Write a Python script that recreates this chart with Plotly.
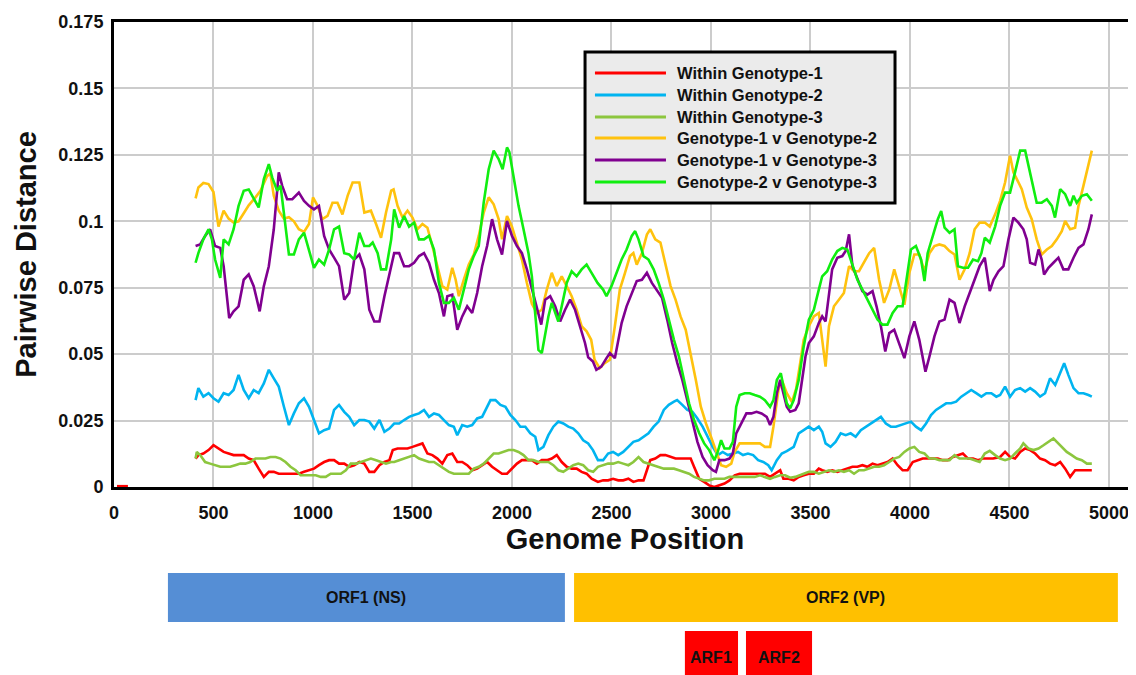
import plotly.graph_objects as go

# ---------------- data ----------------
series_names = ["Within Genotype-1", "Within Genotype-2", "Within Genotype-3",
                "Genotype-1 v Genotype-2", "Genotype-1 v Genotype-3", "Genotype-2 v Genotype-3"]
series_colors = ["#FF0000", "#00B4F0", "#8CC63E", "#FFC20E", "#800090", "#10EE10"]

w1_pos = [15, 70, None, 410, 424, 449, 475, 500, 525, 551, 576, 601, 626, 652, 677, 702, 727, 753, 778, 803, 828, 854, 879, 904, 929, 955, 980,
          1005, 1030, 1056, 1081, 1106, 1131, 1157, 1182, 1207, 1233, 1258, 1283, 1308, 1334, 1359, 1384, 1401, 1425, 1450, 1475,
          1500, 1525, 1550, 1575, 1600, 1625, 1650, 1675, 1700, 1725, 1750, 1775, 1800, 1825, 1850, 1875, 1900, 1925, 1950, 1975,
          2000, 2025, 2050, 2075, 2100, 2125, 2150, 2175, 2200, 2225, 2250, 2275, 2300, 2325, 2350, 2375, 2400, 2432, 2458, 2483,
          2508, 2534, 2559, 2585, 2610, 2636, 2661, 2678, 2695, 2720, 2746, 2771, 2797, 2822, 2847, 2873, 2898, 2915, 2941, 2966,
          2991, 3017, 3042, 3068, 3093, 3119, 3144, 3170, 3195, 3220, 3246, 3271, 3297, 3322, 3348, 3364, 3390, 3416, 3441, 3466,
          3492, 3517, 3542, 3559, 3584, 3609, 3635, 3660, 3685, 3711, 3736, 3761, 3786, 3812, 3837, 3862, 3887, 3913, 3938, 3963,
          3988, 4014, 4039, 4064, 4089, 4115, 4140, 4165, 4190, 4216, 4241, 4266, 4292, 4317, 4342, 4367, 4393, 4418, 4453, 4478,
          4503, 4528, 4554, 4579, 4604, 4629, 4654, 4679, 4704, 4730, 4755, 4780, 4805, 4830, 4855, 4880, 4914]
w1_val = [0.0003, 0.0003, None, 0.0107, 0.012, 0.0126, 0.0139, 0.0157, 0.0145, 0.0132, 0.0126, 0.012, 0.012, 0.012, 0.0107, 0.0101, 0.0069, 0.0038, 0.0057, 0.0057, 0.005, 0.005, 0.005, 0.005, 0.005, 0.0057, 0.0063,
          0.0069, 0.0082, 0.0094, 0.0101, 0.0101, 0.0088, 0.0088, 0.0076, 0.0082, 0.0094, 0.0088, 0.0057, 0.0057, 0.0082, 0.0094, 0.0101, 0.0139, 0.0145, 0.0145, 0.0145,
          0.0151, 0.0157, 0.0164, 0.0126, 0.012, 0.0107, 0.0088, 0.012, 0.0126, 0.0094, 0.0094, 0.0082, 0.0063, 0.0069, 0.0082, 0.0094, 0.0076, 0.0063, 0.005, 0.005,
          0.0069, 0.0088, 0.0101, 0.0101, 0.0101, 0.0088, 0.0101, 0.0101, 0.0107, 0.012, 0.0094, 0.0076, 0.0069, 0.0069, 0.0057, 0.005, 0.0031, 0.0019, 0.0025, 0.0025,
          0.0031, 0.0025, 0.0025, 0.0031, 0.0019, 0.0025, 0.0025, 0.0063, 0.0101, 0.0107, 0.012, 0.012, 0.0113, 0.0107, 0.0107, 0.0107, 0.0107, 0.0076, 0.0031, 0.0019,
          0.0006, 0.0, 0.0006, 0.0013, 0.0025, 0.0044, 0.005, 0.005, 0.005, 0.005, 0.005, 0.005, 0.0038, 0.005, 0.0063, 0.0031, 0.0031, 0.0025, 0.0038, 0.0044,
          0.005, 0.005, 0.0069, 0.0063, 0.0057, 0.0063, 0.0057, 0.0063, 0.0069, 0.0076, 0.0076, 0.0082, 0.0076, 0.0088, 0.0082, 0.0088, 0.0094, 0.0107, 0.0082, 0.0063,
          0.0063, 0.0094, 0.0101, 0.0107, 0.0107, 0.0107, 0.0107, 0.0101, 0.0101, 0.0113, 0.012, 0.0126, 0.0107, 0.0107, 0.0101, 0.0107, 0.0107, 0.0107, 0.0113, 0.0132,
          0.0113, 0.0107, 0.0132, 0.0145, 0.0139, 0.0126, 0.0107, 0.0101, 0.0088, 0.0082, 0.0094, 0.0069, 0.0038, 0.0063, 0.0063, 0.0063, 0.0063]

w2_pos = [410, 424, 449, 475, 500, 525, 551, 576, 601, 626, 652, 677, 702, 727, 753, 778, 803, 828, 854, 879, 904, 929, 955, 980,
          1005, 1030, 1056, 1081, 1106, 1131, 1157, 1182, 1207, 1233, 1258, 1283, 1308, 1334, 1359, 1384, 1408, 1433, 1458, 1483,
          1508, 1533, 1558, 1583, 1608, 1633, 1658, 1683, 1708, 1725, 1750, 1775, 1800, 1825, 1850, 1875, 1892, 1917, 1942, 1967,
          1992, 2017, 2042, 2067, 2092, 2117, 2133, 2158, 2183, 2208, 2233, 2258, 2283, 2308, 2333, 2358, 2383, 2407, 2432, 2458,
          2483, 2508, 2534, 2559, 2585, 2610, 2636, 2661, 2686, 2712, 2737, 2763, 2788, 2814, 2830, 2856, 2881, 2907, 2932, 2958,
          2983, 3009, 3034, 3059, 3085, 3110, 3136, 3161, 3186, 3212, 3237, 3263, 3288, 3305, 3331, 3356, 3381, 3416, 3441, 3466,
          3492, 3517, 3542, 3559, 3576, 3601, 3626, 3652, 3677, 3702, 3727, 3753, 3778, 3803, 3828, 3854, 3879, 3904, 3929, 3955,
          3980, 4005, 4030, 4056, 4081, 4106, 4131, 4157, 4182, 4207, 4232, 4258, 4283, 4308, 4333, 4359, 4384, 4409, 4434, 4453,
          4478, 4503, 4528, 4554, 4579, 4604, 4629, 4654, 4679, 4704, 4730, 4755, 4775, 4796, 4822, 4847, 4872, 4897, 4914]
w2_val = [0.0327, 0.0372, 0.034, 0.0353, 0.0334, 0.0321, 0.0353, 0.0346, 0.0365, 0.0422, 0.0365, 0.0334, 0.0365, 0.0353, 0.039, 0.0441, 0.0409, 0.0378, 0.0302, 0.0233, 0.0277, 0.0315, 0.0334, 0.0302,
          0.0252, 0.0202, 0.0214, 0.022, 0.029, 0.0309, 0.0283, 0.0264, 0.0233, 0.0252, 0.0252, 0.0246, 0.022, 0.0252, 0.0208, 0.022, 0.0239, 0.0239, 0.0252, 0.0264,
          0.0271, 0.0277, 0.029, 0.0264, 0.0277, 0.0271, 0.0252, 0.0233, 0.0227, 0.0195, 0.0233, 0.0227, 0.0233, 0.0258, 0.0264, 0.0302, 0.0327, 0.0327, 0.0309, 0.0302,
          0.0271, 0.0252, 0.0227, 0.0227, 0.0202, 0.0189, 0.0139, 0.0151, 0.0195, 0.0227, 0.0246, 0.0239, 0.0227, 0.022, 0.0202, 0.0176, 0.0164, 0.0139, 0.0101, 0.0101,
          0.0126, 0.0132, 0.012, 0.0132, 0.0151, 0.017, 0.0176, 0.0189, 0.0202, 0.0227, 0.0246, 0.029, 0.0309, 0.0321, 0.0327, 0.0309, 0.029, 0.0283, 0.0258, 0.0227,
          0.0189, 0.0151, 0.012, 0.0132, 0.012, 0.0126, 0.0132, 0.012, 0.0126, 0.012, 0.0101, 0.0094, 0.0082, 0.0063, 0.0101, 0.0126, 0.0135, 0.0151, 0.0202, 0.0214,
          0.0227, 0.0214, 0.0227, 0.0208, 0.0164, 0.0151, 0.017, 0.0202, 0.0195, 0.0202, 0.0189, 0.0214, 0.0227, 0.0239, 0.0252, 0.0264, 0.0239, 0.0227, 0.0227, 0.0233,
          0.0239, 0.0246, 0.0227, 0.0214, 0.0239, 0.0271, 0.029, 0.0302, 0.0315, 0.0315, 0.0321, 0.034, 0.0353, 0.0365, 0.0353, 0.034, 0.0353, 0.0353, 0.034, 0.0346,
          0.0378, 0.034, 0.0365, 0.0372, 0.0359, 0.0372, 0.0359, 0.034, 0.0353, 0.0409, 0.0384, 0.0428, 0.0466, 0.0422, 0.0372, 0.0353, 0.0353, 0.0346, 0.034]

w3_pos = [410, 416, 433, 458, 483, 508, 534, 559, 584, 609, 635, 660, 685, 711, 736, 761, 786, 812, 837, 862, 887, 913, 938, 963, 988,
          1014, 1039, 1064, 1089, 1115, 1140, 1165, 1190, 1216, 1241, 1266, 1291, 1317, 1342, 1367, 1393, 1408, 1433, 1458, 1483,
          1508, 1533, 1558, 1583, 1608, 1633, 1658, 1683, 1708, 1733, 1758, 1783, 1808, 1833, 1858, 1883, 1908, 1933, 1958, 1983,
          2008, 2033, 2058, 2083, 2108, 2133, 2158, 2183, 2208, 2233, 2258, 2283, 2308, 2333, 2358, 2383, 2408, 2432, 2458, 2483,
          2508, 2534, 2559, 2585, 2610, 2636, 2661, 2686, 2712, 2737, 2763, 2788, 2814, 2839, 2864, 2890, 2915, 2941, 2966, 2991,
          3017, 3042, 3068, 3093, 3119, 3144, 3170, 3195, 3220, 3246, 3271, 3297, 3322, 3348, 3373, 3398, 3424, 3441, 3466, 3492,
          3517, 3542, 3567, 3593, 3618, 3643, 3668, 3694, 3719, 3744, 3769, 3795, 3820, 3845, 3870, 3896, 3921, 3946, 3972, 3997,
          4022, 4047, 4073, 4098, 4123, 4148, 4174, 4199, 4224, 4249, 4275, 4300, 4325, 4350, 4376, 4401, 4428, 4453, 4478, 4503,
          4528, 4554, 4570, 4595, 4621, 4646, 4671, 4696, 4721, 4738, 4763, 4788, 4813, 4838, 4864, 4889, 4914]
w3_val = [0.0107, 0.0132, 0.012, 0.0094, 0.0088, 0.0082, 0.0076, 0.0076, 0.0076, 0.0082, 0.0088, 0.0088, 0.0094, 0.0107, 0.0107, 0.0107, 0.0113, 0.0113, 0.0107, 0.0094, 0.0076, 0.0063, 0.0044, 0.0044, 0.0044,
          0.0044, 0.0038, 0.0038, 0.005, 0.005, 0.005, 0.0063, 0.0088, 0.0088, 0.0094, 0.0101, 0.0107, 0.0101, 0.0094, 0.0088, 0.0094, 0.0094, 0.0101, 0.0107, 0.0113,
          0.012, 0.0107, 0.0101, 0.0094, 0.0094, 0.0082, 0.0069, 0.0057, 0.005, 0.005, 0.005, 0.005, 0.0069, 0.0076, 0.0088, 0.0107, 0.0126, 0.0126, 0.0132, 0.0139,
          0.0139, 0.0132, 0.012, 0.0101, 0.0101, 0.0094, 0.0094, 0.0094, 0.0082, 0.0063, 0.0057, 0.0069, 0.0082, 0.0088, 0.0082, 0.0063, 0.0057, 0.0076, 0.0082, 0.0088,
          0.0088, 0.0094, 0.0088, 0.0082, 0.0094, 0.0113, 0.0094, 0.0088, 0.0082, 0.0076, 0.0069, 0.0069, 0.0069, 0.0063, 0.0057, 0.005, 0.0038, 0.0031, 0.0025, 0.0025,
          0.0031, 0.0031, 0.0031, 0.0038, 0.0038, 0.0038, 0.0038, 0.0038, 0.0038, 0.0044, 0.0038, 0.0031, 0.0038, 0.0044, 0.0044, 0.0035, 0.0038, 0.0044, 0.005, 0.0057,
          0.0057, 0.005, 0.0057, 0.0063, 0.0057, 0.0063, 0.0057, 0.0063, 0.005, 0.0063, 0.0063, 0.0069, 0.0076, 0.0076, 0.0082, 0.0094, 0.0107, 0.0113, 0.0132, 0.0145,
          0.0151, 0.0132, 0.0126, 0.0107, 0.0107, 0.0101, 0.0101, 0.0101, 0.012, 0.0107, 0.0107, 0.0107, 0.0101, 0.0094, 0.0126, 0.0136, 0.012, 0.0107, 0.0101, 0.0107,
          0.0126, 0.0145, 0.0164, 0.0145, 0.0139, 0.0145, 0.0157, 0.017, 0.0183, 0.017, 0.0151, 0.0132, 0.012, 0.0107, 0.0101, 0.0088, 0.0088]

g12_pos = [410, 424, 449, 475, 500, 525, 551, 576, 601, 626, 652, 677, 711, 736, 769, 786, 803, 828, 854, 879, 904, 929, 955, 980,
           1000, 1022, 1047, 1073, 1098, 1123, 1148, 1174, 1199, 1233, 1258, 1291, 1317, 1342, 1367, 1393, 1405, 1425, 1450, 1475,
           1500, 1525, 1550, 1575, 1600, 1625, 1650, 1675, 1700, 1717, 1733, 1758, 1783, 1808, 1833, 1858, 1883, 1908, 1933, 1950,
           1975, 2000, 2025, 2050, 2075, 2100, 2125, 2150, 2175, 2200, 2225, 2250, 2275, 2300, 2325, 2350, 2375, 2398, 2415, 2441,
           2466, 2492, 2517, 2542, 2568, 2593, 2610, 2627, 2653, 2678, 2695, 2720, 2746, 2771, 2797, 2822, 2847, 2873, 2898, 2924,
           2949, 2975, 3000, 3025, 3051, 3076, 3102, 3119, 3144, 3178, 3212, 3246, 3271, 3297, 3314, 3339, 3356, 3381, 3407, 3428,
           3449, 3466, 3492, 3517, 3542, 3559, 3576, 3593, 3618, 3643, 3668, 3694, 3719, 3744, 3769, 3795, 3820, 3845, 3870, 3896,
           3921, 3946, 3972, 3997, 4022, 4047, 4073, 4098, 4123, 4148, 4174, 4199, 4224, 4249, 4275, 4300, 4325, 4350, 4376, 4401,
           4428, 4453, 4478, 4503, 4520, 4537, 4562, 4587, 4612, 4637, 4662, 4688, 4713, 4738, 4763, 4780, 4805, 4830, 4847, 4872,
           4897, 4914]
g12_val = [0.1086, 0.1127, 0.1144, 0.114, 0.111, 0.098, 0.104, 0.101, 0.0995, 0.1, 0.103, 0.106, 0.109, 0.1115, 0.117, 0.118, 0.1096, 0.104, 0.101, 0.1015, 0.1, 0.097, 0.096, 0.099,
           0.109, 0.106, 0.1008, 0.102, 0.107, 0.107, 0.1026, 0.1096, 0.1146, 0.1146, 0.1033, 0.104, 0.099, 0.0938, 0.1033, 0.1115, 0.112, 0.1058, 0.1014, 0.104,
           0.1014, 0.097, 0.099, 0.0976, 0.0907, 0.083, 0.0756, 0.0743, 0.0825, 0.078, 0.0718, 0.078, 0.0837, 0.0875, 0.0945, 0.1033, 0.109, 0.1064, 0.1008, 0.0932,
           0.102, 0.098, 0.092, 0.0856, 0.0768, 0.069, 0.0655, 0.0667, 0.0743, 0.0806, 0.0756, 0.0793, 0.0756, 0.0718, 0.0667, 0.0605, 0.0586, 0.0554, 0.0479, 0.0447,
           0.0466, 0.0479, 0.0605, 0.0743, 0.0806, 0.0869, 0.088, 0.0837, 0.088, 0.095, 0.097, 0.0932, 0.092, 0.0844, 0.0756, 0.0705, 0.0642, 0.0592, 0.0504, 0.0403,
           0.0302, 0.0239, 0.0189, 0.0139, 0.0082, 0.0076, 0.0088, 0.0132, 0.0164, 0.0164, 0.0164, 0.0164, 0.0151, 0.0151, 0.0227, 0.0365, 0.0403, 0.0353, 0.032, 0.037,
           0.047, 0.0554, 0.0605, 0.0642, 0.0655, 0.0554, 0.0453, 0.0605, 0.068, 0.0705, 0.073, 0.0831, 0.0812, 0.0812, 0.0844, 0.088, 0.09, 0.078, 0.0693, 0.0743,
           0.0819, 0.0756, 0.0686, 0.0806, 0.0875, 0.0875, 0.0812, 0.088, 0.0907, 0.0913, 0.0907, 0.0888, 0.0875, 0.078, 0.0819, 0.088, 0.097, 0.0995, 0.0995, 0.098,
           0.1026, 0.1077, 0.1146, 0.1247, 0.1184, 0.1159, 0.1121, 0.1052, 0.1008, 0.0932, 0.0875, 0.0894, 0.0907, 0.0932, 0.0963, 0.1001, 0.097, 0.0976, 0.1058, 0.1134,
           0.121, 0.1266]

g13_pos = [410, 433, 458, 483, 508, 534, 551, 567, 579, 601, 626, 652, 677, 702, 719, 732, 753, 778, 803, 815, 828, 845, 870, 896, 929, 955, 980,
           1005, 1030, 1056, 1081, 1106, 1131, 1157, 1182, 1207, 1233, 1258, 1283, 1308, 1334, 1359, 1384, 1408, 1433, 1458, 1483,
           1508, 1533, 1558, 1583, 1608, 1633, 1658, 1675, 1700, 1725, 1750, 1775, 1800, 1825, 1850, 1875, 1900, 1925, 1950, 1975,
           2000, 2025, 2050, 2075, 2100, 2125, 2147, 2167, 2192, 2217, 2242, 2267, 2292, 2317, 2342, 2367, 2383, 2407, 2424, 2449,
           2475, 2492, 2517, 2534, 2551, 2576, 2602, 2627, 2653, 2678, 2703, 2729, 2754, 2780, 2805, 2831, 2856, 2881, 2907, 2932,
           2958, 2983, 3009, 3025, 3042, 3068, 3093, 3110, 3127, 3153, 3178, 3203, 3229, 3254, 3280, 3297, 3314, 3331, 3348, 3364,
           3381, 3398, 3424, 3441, 3458, 3475, 3492, 3517, 3542, 3559, 3576, 3593, 3609, 3635, 3660, 3677, 3694, 3711, 3736, 3761,
           3786, 3812, 3832, 3854, 3876, 3896, 3921, 3946, 3972, 3997, 4022, 4047, 4064, 4078, 4098, 4123, 4148, 4174, 4199, 4224,
           4249, 4275, 4300, 4325, 4350, 4376, 4401, 4420, 4445, 4470, 4495, 4520, 4545, 4570, 4587, 4604, 4629, 4646, 4662, 4674,
           4696, 4721, 4746, 4771, 4796, 4822, 4847, 4872, 4897, 4914]
g13_val = [0.0907, 0.0913, 0.0945, 0.097, 0.0907, 0.09, 0.0831, 0.0705, 0.0636, 0.0661, 0.068, 0.078, 0.08, 0.0756, 0.0705, 0.0661, 0.0756, 0.0831, 0.097, 0.1083, 0.1184, 0.1134, 0.1083, 0.1083, 0.1108, 0.1077, 0.1058,
           0.1045, 0.1058, 0.0945, 0.0894, 0.0863, 0.0831, 0.0705, 0.073, 0.0856, 0.0875, 0.0819, 0.0667, 0.0623, 0.0623, 0.0718, 0.08, 0.088, 0.088, 0.0831, 0.0831,
           0.0844, 0.0869, 0.088, 0.0844, 0.078, 0.073, 0.0642, 0.0718, 0.0724, 0.0592, 0.0642, 0.068, 0.0655, 0.073, 0.0831, 0.0907, 0.1008, 0.0932, 0.0875, 0.1001,
           0.0945, 0.0907, 0.088, 0.0819, 0.0743, 0.0667, 0.0611, 0.0705, 0.0718, 0.068, 0.0623, 0.0667, 0.0705, 0.0667, 0.0605, 0.0542, 0.0488, 0.0472, 0.0441, 0.0453,
           0.0485, 0.0504, 0.0485, 0.0554, 0.0617, 0.068, 0.073, 0.0775, 0.078, 0.0806, 0.0768, 0.0737, 0.0712, 0.063, 0.0542, 0.0466, 0.0403, 0.0327, 0.0252, 0.017,
           0.0113, 0.0082, 0.0063, 0.0057, 0.0101, 0.0101, 0.0107, 0.0126, 0.0202, 0.0239, 0.0277, 0.0277, 0.0283, 0.0277, 0.0264, 0.0233, 0.0264, 0.0353, 0.0403, 0.0353,
           0.0302, 0.0283, 0.029, 0.0315, 0.0403, 0.0491, 0.0542, 0.0567, 0.0617, 0.0642, 0.0623, 0.0718, 0.0819, 0.0863, 0.0869, 0.0888, 0.0951, 0.0831, 0.078, 0.0737,
           0.0724, 0.0737, 0.068, 0.0605, 0.051, 0.0579, 0.0592, 0.0542, 0.0485, 0.0567, 0.0623, 0.0554, 0.0491, 0.0434, 0.0491, 0.0567, 0.0623, 0.063, 0.0705, 0.0693,
           0.0617, 0.068, 0.073, 0.078, 0.0831, 0.0863, 0.0737, 0.078, 0.0812, 0.0831, 0.0932, 0.1014, 0.0995, 0.097, 0.0932, 0.0844, 0.0837, 0.0894, 0.0856, 0.08,
           0.0825, 0.0844, 0.0863, 0.0819, 0.0819, 0.0863, 0.09, 0.0913, 0.097, 0.1026]

g23_pos = [410, 424, 449, 475, 492, 508, 534, 551, 576, 601, 626, 652, 677, 702, 727, 753, 778, 795, 820, 837, 854, 879, 904, 929, 955, 980,
           1005, 1030, 1056, 1081, 1106, 1131, 1157, 1182, 1207, 1233, 1258, 1283, 1300, 1325, 1342, 1367, 1393, 1408, 1433, 1458, 1483,
           1508, 1533, 1558, 1583, 1608, 1633, 1658, 1683, 1708, 1733, 1758, 1783, 1808, 1833, 1858, 1883, 1908, 1933, 1953, 1975,
           1987, 2008, 2033, 2058, 2083, 2100, 2117, 2133, 2150, 2167, 2183, 2200, 2217, 2233, 2250, 2275, 2300, 2325, 2350, 2375,
           2400, 2430, 2458, 2475, 2500, 2525, 2551, 2576, 2602, 2619, 2636, 2661, 2686, 2712, 2737, 2763, 2788, 2814, 2839, 2864,
           2890, 2915, 2941, 2966, 2991, 3017, 3034, 3051, 3068, 3093, 3110, 3127, 3144, 3170, 3195, 3220, 3246, 3271, 3297, 3314,
           3331, 3351, 3364, 3381, 3398, 3416, 3441, 3466, 3492, 3517, 3542, 3559, 3584, 3609, 3635, 3660, 3685, 3711, 3736, 3761,
           3786, 3812, 3837, 3862, 3887, 3913, 3938, 3963, 3983, 4005, 4030, 4056, 4073, 4089, 4115, 4140, 4157, 4174, 4199, 4224,
           4241, 4266, 4292, 4317, 4342, 4359, 4376, 4401, 4428, 4453, 4478, 4503, 4528, 4554, 4579, 4595, 4612, 4637, 4662, 4688,
           4713, 4729, 4755, 4780, 4805, 4822, 4838, 4864, 4889, 4914]
g23_val = [0.0844, 0.088, 0.0932, 0.097, 0.0932, 0.0856, 0.0787, 0.0932, 0.0913, 0.097, 0.1058, 0.1115, 0.112, 0.1083, 0.1052, 0.1159, 0.1215, 0.1165, 0.1115, 0.1134, 0.102, 0.0875, 0.0875, 0.0932, 0.0957, 0.0894,
           0.0825, 0.0856, 0.0837, 0.0894, 0.097, 0.098, 0.088, 0.0875, 0.0856, 0.0957, 0.0907, 0.0907, 0.092, 0.088, 0.0819, 0.0819, 0.0932, 0.1045, 0.0976, 0.102, 0.098,
           0.0995, 0.0932, 0.0932, 0.0945, 0.0894, 0.0768, 0.0693, 0.0693, 0.0712, 0.0667, 0.0743, 0.0819, 0.0869, 0.0907, 0.1071, 0.1196, 0.1266, 0.1234, 0.1196, 0.1278,
           0.126, 0.1171, 0.1058, 0.097, 0.088, 0.0793, 0.0642, 0.0516, 0.0504, 0.0579, 0.0642, 0.0693, 0.0655, 0.0623, 0.068, 0.0768, 0.0812, 0.0793, 0.0819, 0.0837,
           0.0806, 0.0768, 0.0743, 0.0718, 0.0756, 0.0806, 0.0856, 0.0894, 0.0945, 0.0963, 0.0932, 0.0869, 0.0856, 0.0819, 0.0768, 0.0705, 0.063, 0.0554, 0.0491, 0.0403,
           0.0315, 0.0252, 0.0202, 0.0164, 0.0139, 0.0101, 0.0132, 0.0176, 0.0145, 0.0145, 0.017, 0.0302, 0.0346, 0.0353, 0.0353, 0.0346, 0.034, 0.0327, 0.0302, 0.0327,
           0.0403, 0.0428, 0.0378, 0.0315, 0.0296, 0.0327, 0.0403, 0.0529, 0.063, 0.0667, 0.0743, 0.0793, 0.0812, 0.0856, 0.0888, 0.09, 0.0894, 0.0837, 0.078, 0.0743,
           0.0705, 0.0667, 0.063, 0.0611, 0.0611, 0.0655, 0.068, 0.068, 0.078, 0.0894, 0.0907, 0.0856, 0.0775, 0.088, 0.0945, 0.1008, 0.1039, 0.0976, 0.0957, 0.097,
           0.0831, 0.0825, 0.0825, 0.0856, 0.085, 0.088, 0.0938, 0.092, 0.098, 0.1058, 0.1108, 0.1108, 0.1184, 0.1266, 0.1266, 0.1209, 0.1146, 0.107, 0.107, 0.1083,
           0.1058, 0.1014, 0.1121, 0.1102, 0.1058, 0.1096, 0.107, 0.1096, 0.1102, 0.1077]

series_pos = [w1_pos, w2_pos, w3_pos, g12_pos, g13_pos, g23_pos]
series_val = [w1_val, w2_val, w3_val, g12_val, g13_val, g23_val]

x_ticks = [0, 500, 1000, 1500, 2000, 2500, 3000, 3500, 4000, 4500, 5000]
y_ticks = [0, 0.025, 0.05, 0.075, 0.1, 0.125, 0.15, 0.175]
y_ticklabels = ["0", "0.025", "0.05", "0.075", "0.1", "0.125", "0.15", "0.175"]

region_names = ["ORF1 (NS)", "ORF2 (VP)", "ARF1", "ARF2"]
region_start = [271, 2312, 2869, 3176]
region_end = [2266, 5045, 3136, 3508]
region_colors = ["#558ED5", "#FFC000", "#FF0000", "#FF0000"]
region_row = [0, 0, 1, 1]

# ---------------- figure ----------------
FONT = "Arial, 'Liberation Sans', sans-serif"
fig = go.Figure()
for name, color, xs, ys in zip(series_names, series_colors, series_pos, series_val):
    fig.add_trace(go.Scatter(x=xs, y=ys, mode="lines", name=name,
                             line=dict(color=color, width=2.6), showlegend=False,
                             connectgaps=False))

# Manual legend box (paper coordinates)
lx0, lx1, ly0, ly1 = 0.4609, 0.7642, 0.6108, 0.9355
shapes = [dict(type="rect", xref="paper", yref="paper", x0=lx0, x1=lx1, y0=ly0, y1=ly1,
               fillcolor="#EBEBEB", line=dict(color="black", width=3), layer="above")]
annotations = []
row_y = [0.8903, 0.8430, 0.7957, 0.7505, 0.7032, 0.6559]
for i, (name, color) in enumerate(zip(series_names, series_colors)):
    shapes.append(dict(type="line", xref="paper", yref="paper", x0=0.4706, x1=0.5401,
                       y0=row_y[i], y1=row_y[i], line=dict(color=color, width=3), layer="above"))
    annotations.append(dict(xref="paper", yref="paper", x=0.5489, y=row_y[i], text="<b>%s</b>" % name,
                            showarrow=False, xanchor="left", yanchor="middle",
                            font=dict(family=FONT, size=16.5, color="#111")))

# genome region boxes below axis
row_top = [-0.1849, -0.3097]
row_bot = [-0.2903, -0.4100]
row_mid = [-0.2366, -0.3656]
for name, s, e, c, r in zip(region_names, region_start, region_end, region_colors, region_row):
    shapes.append(dict(type="rect", xref="x", yref="paper", x0=s, x1=e, y0=row_bot[r], y1=row_top[r],
                       fillcolor=c, line=dict(width=0), layer="above"))
    annotations.append(dict(xref="x", yref="paper", x=(s + e) / 2, y=row_mid[r], text="<b>%s</b>" % name,
                            showarrow=False, xanchor="center", yanchor="middle",
                            font=dict(family=FONT, size=16, color="#111")))

# The page body adds an 8px offset, so the figure is sized to fit the 1136x675 window.
fig.update_layout(
    width=1128, height=667,
    margin=dict(l=106, r=0, t=14, b=188, autoexpand=False),
    paper_bgcolor="white", plot_bgcolor="white",
    shapes=shapes, annotations=annotations,
    showlegend=False,
    font=dict(family=FONT, color="#111"),
)
fig.update_xaxes(range=[0, 5136], tickvals=x_ticks, ticktext=[str(v) for v in x_ticks],
                 showgrid=True, gridcolor="#CCCCCC", gridwidth=2, zeroline=False,
                 showline=True, linecolor="black", linewidth=3, mirror=True,
                 ticks="", ticklabelstandoff=7, layer="below traces", automargin=False,
                 tickfont=dict(family=FONT, size=18, color="#111", weight="bold"),
                 title=dict(text="<b>Genome Position</b>", standoff=8,
                            font=dict(family=FONT, size=29, color="#111")))
fig.update_yaxes(range=[0, 0.175], tickvals=y_ticks, ticktext=y_ticklabels,
                 showgrid=True, gridcolor="#CCCCCC", gridwidth=2, zeroline=False,
                 showline=True, linecolor="black", linewidth=3, mirror=False,
                 ticks="", ticklabelstandoff=4, layer="below traces", automargin=False,
                 tickfont=dict(family=FONT, size=18, color="#111", weight="bold"),
                 title=dict(text="<b>Pairwise Distance</b>", standoff=14,
                            font=dict(family=FONT, size=29, color="#111")))

fig.write_html("out.html")
